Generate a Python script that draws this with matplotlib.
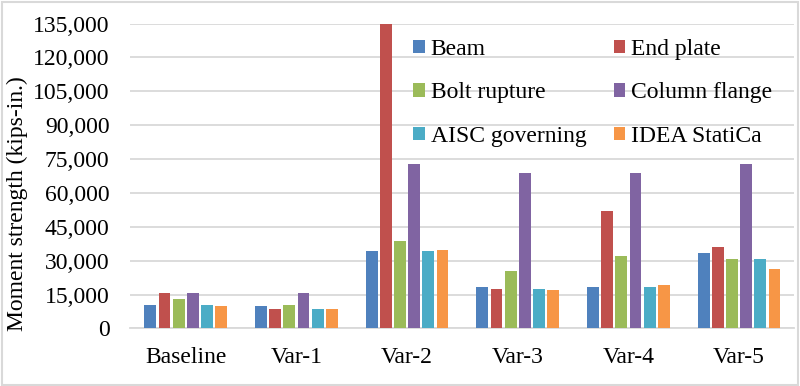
import numpy as np
import matplotlib.pyplot as plt
from matplotlib.patches import Rectangle

plt.rcParams['font.family'] = ['Liberation Serif', 'DejaVu Serif']

categorias = ['Baseline', 'Var-1', 'Var-2', 'Var-3', 'Var-4', 'Var-5']
series = ['Beam', 'End plate', 'Bolt rupture', 'Column flange', 'AISC governing', 'IDEA StatiCa']
beam = [10400, 10000, 34400, 18400, 18400, 33500]
end_plate = [15700, 8600, 135000, 17500, 52100, 36100]
bolt = [13100, 10400, 38800, 25500, 32100, 30800]
column = [15700, 15700, 72900, 68900, 68900, 72900]
aisc = [10400, 8600, 34400, 17500, 18400, 30800]
idea = [10000, 8600, 34800, 17100, 19300, 26400]
valores = [beam, end_plate, bolt, column, aisc, idea]
cores = ['#4F81BD', '#C0504D', '#9BBB59', '#8064A2', '#4BACC6', '#F79646']

fig = plt.figure(figsize=(8, 3.86), dpi=100)
ax = fig.add_axes([0.163, 0.149, 0.83, 0.79])

x = np.arange(len(categorias))
passo = 0.128
barras = []
for i, (nome, v) in enumerate(zip(series, valores)):
    b = ax.bar(x + (i - 2.5) * passo, v, width=0.108, color=cores[i], label=nome, zorder=3)
    barras.append(b)

ax.set_xlim(-0.5, 5.5)
ax.set_ylim(0, 135000)
ax.set_yticks(np.arange(0, 135001, 15000))
ax.yaxis.set_major_formatter(plt.FuncFormatter(lambda v, p: f'{int(v):,}'))
ax.set_xticks(x)
ax.set_xticklabels(categorias)
ax.tick_params(axis='both', length=0, labelsize=17, colors='black')
ax.tick_params(axis='x', pad=13)
ax.tick_params(axis='y', pad=15)
ax.grid(axis='y', color='#D9D9D9', linewidth=1.3, zorder=0)
for lado in ['top', 'right', 'left']:
    ax.spines[lado].set_visible(False)
ax.spines['bottom'].set_color('#D9D9D9')
ax.spines['bottom'].set_linewidth(1.3)
ax.set_ylabel('Moment strength (kips-in.)', fontsize=17)
ax.yaxis.set_label_coords(-0.154, 0.408)

# legenda em ordem por linha (2 colunas)
ordem = [0, 2, 4, 1, 3, 5]
leg = ax.legend([barras[k] for k in ordem], [series[k] for k in ordem],
                loc='upper left', bbox_to_anchor=(0.4256, 0.95), ncol=2, frameon=False,
                fontsize=17, handlelength=0.5, handleheight=0.5, handletextpad=0.25,
                columnspacing=1.15, labelspacing=0.95, borderaxespad=0, borderpad=0)

fig.patches.append(Rectangle((0.002, 0.003), 0.995, 0.993, transform=fig.transFigure,
                             fill=False, edgecolor='#D9D9D9', linewidth=1.5))

fig.savefig('out.png', dpi=100)
